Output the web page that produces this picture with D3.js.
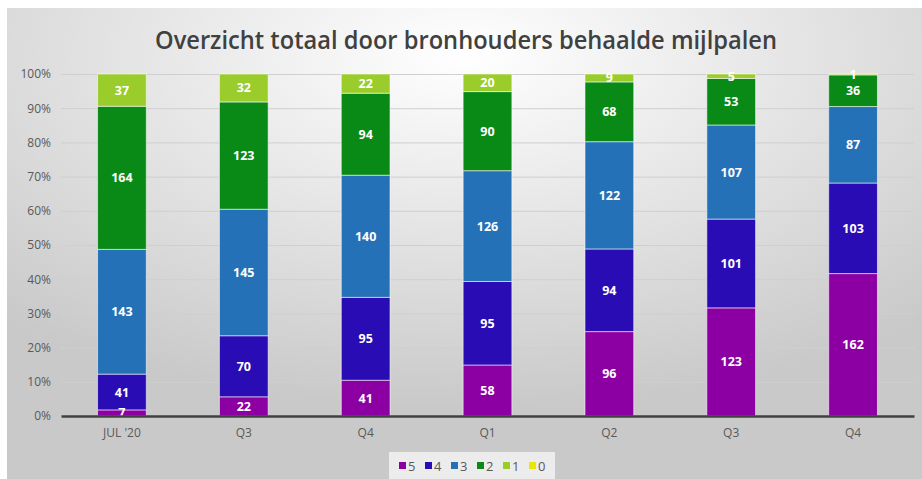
<!DOCTYPE html>
<html>
<head>
<meta charset="utf-8">
<script src="https://cdn.jsdelivr.net/npm/d3@7"></script>
<style>
  body { margin: 0; background: #fff; }
  svg { display: block; }
</style>
</head>
<body>
<script>
// categories and series
var categories = ["JUL '20", "Q3", "Q4", "Q1", "Q2", "Q3", "Q4"];
var seriesKeys = ["5", "4", "3", "2", "1", "0"];
var s5 = [7, 22, 41, 58, 96, 123, 162];
var s4 = [41, 70, 95, 95, 94, 101, 103];
var s3 = [143, 145, 140, 126, 122, 107, 87];
var s2 = [164, 123, 94, 90, 68, 53, 36];
var s1 = [37, 32, 22, 20, 9, 5, 1];
var s0 = [0, 0, 0, 0, 0, 0, 0];
var yTicks = [0, 0.1, 0.2, 0.3, 0.4, 0.5, 0.6, 0.7, 0.8, 0.9, 1];
var colors = ["#8c00a3", "#2a0cb5", "#2571b8", "#098a17", "#9acd2c", "#e8e800"];

var width = 922,
    height = 479;

var margin = {top: 74, right: 8, bottom: 63, left: 61};

// build table for d3.stack
var seriesVals = [s5, s4, s3, s2, s1, s0];
var table = categories.map(function(c, i) {
  var row = {idx: i, cat: c};
  seriesKeys.forEach(function(k, j) { row[k] = seriesVals[j][i]; });
  return row;
});

var stack = d3.stack()
    .keys(seriesKeys)
    .offset(d3.stackOffsetExpand);
var layers = stack(table);

var svg = d3.select("body").append("svg")
    .attr("width", width)
    .attr("height", height);

var defs = svg.append("defs");
var grad = defs.append("radialGradient")
    .attr("id", "bg")
    .attr("cx", "50%").attr("cy", "10%")
    .attr("r", "75%");
grad.append("stop").attr("offset", "0%").attr("stop-color", "#ffffff");
grad.append("stop").attr("offset", "100%").attr("stop-color", "#c9c9c9");

svg.append("rect")
    .attr("x", 7).attr("y", 8)
    .attr("width", width - 7).attr("height", height - 8)
    .attr("fill", "url(#bg)");

var x = d3.scaleBand()
    .domain(d3.range(categories.length))
    .range([margin.left, width - margin.right])
    .paddingInner(0.6)
    .paddingOuter(0.3);

var y = d3.scaleLinear()
    .domain([0, 1])
    .range([height - margin.bottom, margin.top]);

// title
svg.append("text")
    .attr("x", 466)
    .attr("y", 49)
    .attr("text-anchor", "middle")
    .style("font-family", "'Open Sans', sans-serif")
    .style("font-size", "25px")
    .style("font-weight", "600")
    .style("fill", "#404040")
    .attr("textLength", 622)
    .attr("lengthAdjust", "spacingAndGlyphs")
    .text("Overzicht totaal door bronhouders behaalde mijlpalen");

// grid
var yAxis = d3.axisLeft(y)
    .tickValues(yTicks)
    .tickFormat(d3.format(".0%"))
    .tickSize(-(width - margin.right - margin.left))
    .tickPadding(12);

var gy = svg.append("g")
    .attr("transform", "translate(" + margin.left + ",0)")
    .call(yAxis);
gy.select(".domain").remove();
gy.selectAll(".tick line")
    .attr("stroke", "#cfcfcf")
    .attr("stroke-width", 1);
gy.selectAll(".tick text")
    .attr("x", -10)
    .style("font-family", "'Open Sans', sans-serif")
    .style("font-size", "12px")
    .style("fill", "#595959");

// bars
var layer = svg.append("g").selectAll("g")
    .data(layers)
    .enter().append("g")
    .attr("fill", function(d, i) { return colors[i]; });

layer.selectAll("rect")
    .data(function(d) { return d; })
    .enter().append("rect")
    .attr("x", function(d) { return x(d.data.idx); })
    .attr("y", function(d) { return y(d[1]); })
    .attr("width", x.bandwidth())
    .attr("height", function(d) { return Math.max(0, y(d[0]) - y(d[1])); })
    .attr("stroke", function(d) { return d[1] > d[0] ? "rgba(255,255,255,0.55)" : "none"; })
    .attr("stroke-width", 1);

// value labels
layers.forEach(function(l) {
  svg.append("g").selectAll("text")
    .data(l.filter(function(d) { return d.data[l.key] > 0; }))
    .enter().append("text")
    .attr("x", function(d) { return x(d.data.idx) + x.bandwidth() / 2; })
    .attr("y", function(d) { return (y(d[0]) + y(d[1])) / 2; })
    .attr("dy", "0.36em")
    .attr("text-anchor", "middle")
    .style("font-family", "'Open Sans', sans-serif")
    .style("font-size", "12.5px")
    .style("font-weight", "700")
    .style("fill", "#ffffff")
    .text(function(d) { return d.data[l.key]; });
});

// baseline + category axis
var xAxis = d3.axisBottom(x)
    .tickFormat(function(i) { return categories[i]; })
    .tickSize(0)
    .tickPadding(12);

var gx = svg.append("g")
    .attr("transform", "translate(0," + y(0) + ")")
    .call(xAxis);
gx.select(".domain")
    .attr("stroke", "#404040")
    .attr("stroke-width", 2.5);
gx.selectAll(".tick text")
    .style("font-family", "'Open Sans', sans-serif")
    .style("font-size", "12px")
    .style("fill", "#595959");

// legend
svg.append("rect")
    .attr("x", 389).attr("y", 452)
    .attr("width", 166).attr("height", 27)
    .attr("fill", "#ececec");

var legend = svg.append("g")
    .selectAll("g")
    .data(seriesKeys)
    .enter().append("g")
    .attr("transform", function(d, i) { return "translate(" + (399 + i * 26) + ",466)"; });

legend.append("rect")
    .attr("x", 0).attr("y", -4)
    .attr("width", 7).attr("height", 7)
    .attr("fill", function(d, i) { return colors[i]; });

legend.append("text")
    .attr("x", 9)
    .attr("dy", "0.36em")
    .style("font-family", "'Open Sans', sans-serif")
    .style("font-size", "13px")
    .style("fill", "#595959")
    .text(function(d) { return d; });
</script>
</body>
</html>
